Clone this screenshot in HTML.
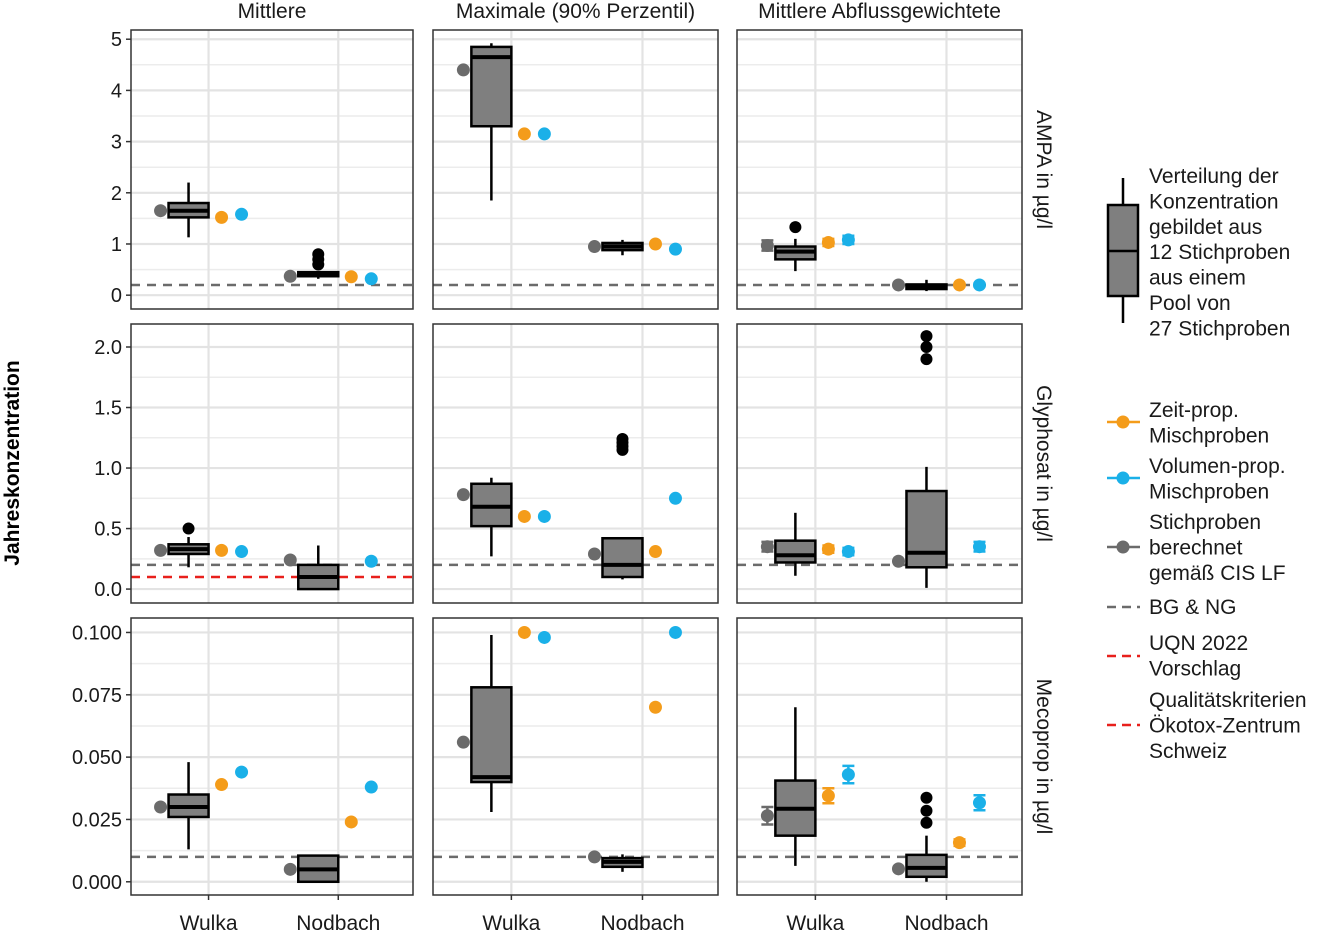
<!DOCTYPE html>
<html><head><meta charset="utf-8">
<style>
html,body{margin:0;padding:0;background:#fff;}
svg{display:block;font-family:"Liberation Sans",Arial,sans-serif;}
</style></head>
<body>
<svg id="chart" width="1323" height="931" viewBox="0 0 1323 931" xmlns="http://www.w3.org/2000/svg"></svg>
<script>
// ---- data ----
const sites = ["Wulka", "Nodbach"];
const statistics = ["Mittlere", "Maximale (90% Perzentil)", "Mittlere Abflussgewichtete"];
const substances = ["AMPA in µg/l", "Glyphosat in µg/l", "Mecoprop in µg/l"];
const rowTicks = [[0,1,2,3,4,5],[0,0.5,1,1.5,2],[0,0.025,0.05,0.075,0.1]];
const rowTickLabels = [["0","1","2","3","4","5"],["0.0","0.5","1.0","1.5","2.0"],["0.000","0.025","0.050","0.075","0.100"]];
const rowDomains = [[-0.27,5.18],[-0.115,2.19],[-0.0053,0.1058]];
// boxes: [lower whisker, q1, median, q3, upper whisker], index = col*2 + site
const ampaBoxes = [[1.13,1.52,1.65,1.8,2.2],[0.32,0.37,0.41,0.45,0.47],[1.85,3.3,4.65,4.85,4.92],[0.78,0.88,0.95,1.02,1.08],[0.47,0.7,0.85,0.95,1.1],[0.08,0.12,0.17,0.21,0.3]];
const glyBoxes = [[0.18,0.29,0.33,0.37,0.43],[0,0,0.1,0.2,0.36],[0.27,0.52,0.68,0.87,0.92],[0.08,0.1,0.2,0.42,0.42],[0.11,0.22,0.28,0.4,0.63],[0.01,0.18,0.3,0.81,1.01]];
const mecoBoxes = [[0.013,0.026,0.03,0.035,0.048],[0,0,0.005,0.0105,0.0105],[0.028,0.04,0.042,0.078,0.099],[0.004,0.006,0.008,0.0095,0.011],[0.0064,0.0185,0.0293,0.0406,0.070],[0,0.002,0.0056,0.0108,0.0185]];
const ampaOutliers = [[],[0.6,0.7,0.8],[],[],[1.33],[]];
const glyOutliers = [[0.5],[],[],[1.15,1.18,1.21,1.24],[],[1.9,2.0,2.09]];
const mecoOutliers = [[],[],[],[],[],[0.0237,0.0285,0.0337]];
// points: [value, error] (null = missing)
const ampaGrey = [[1.65,0],[0.37,0],[4.4,0],[0.95,0],[0.97,0.1],[0.2,0]];
const ampaOrange = [[1.52,0],[0.36,0],[3.15,0],[1.0,0],[1.03,0.07],[0.2,0]];
const ampaBlue = [[1.58,0],[0.32,0],[3.15,0],[0.9,0],[1.08,0.08],[0.2,0.03]];
const glyGrey = [[0.32,0],[0.24,0],[0.78,0],[0.29,0],[0.35,0.04],[0.23,0]];
const glyOrange = [[0.32,0],null,[0.6,0],[0.31,0],[0.33,0.03],null];
const glyBlue = [[0.31,0],[0.23,0],[0.6,0],[0.75,0],[0.31,0.03],[0.35,0.04]];
const mecoGrey = [[0.030,0],[0.005,0],[0.056,0],[0.010,0],[0.0265,0.0035],[0.0052,0]];
const mecoOrange = [[0.039,0],[0.024,0],[0.1,0],[0.070,0],[0.0345,0.003],[0.0157,0.0013]];
const mecoBlue = [[0.044,0],[0.038,0],[0.098,0],[0.100,0],[0.043,0.0035],[0.0317,0.003]];
const greyRefLines = [0.2, 0.2, 0.01];
const redRefLines = [null, 0.1, null];

const allBoxes=[ampaBoxes,glyBoxes,mecoBoxes];
const allOut=[ampaOutliers,glyOutliers,mecoOutliers];
const allGrey=[ampaGrey,glyGrey,mecoGrey];
const allOrange=[ampaOrange,glyOrange,mecoOrange];
const allBlue=[ampaBlue,glyBlue,mecoBlue];

// ---- layout ----
const colX=[[131,413],[433,718],[737,1022]];
const rowY=[[30,309],[324,603],[618,895]];
const GREY="#6b6b6b", ORANGE="#f49c1a", BLUE="#1ab0e8";
const svg=document.getElementById('chart');
const NS="http://www.w3.org/2000/svg";
function mk(tag,attrs,parent){const e=document.createElementNS(NS,tag);for(const k in attrs)e.setAttribute(k,attrs[k]);(parent||svg).appendChild(e);return e;}
function xScale(c,site){const [a,b]=colX[c];return a+(b-a)*(site===0?0.275:0.735);}
function yScale(r,v){const [d0,d1]=rowDomains[r];const [top,bot]=rowY[r];return bot-(v-d0)/(d1-d0)*(bot-top);}

function point(g,x,y,col,err,r,name){
  if(err>0){
    const e1=yScale(r,y-err), e2=yScale(r,y+err);
    const eb=mk('path',{d:`M${x-6},${e1}H${x+6}M${x-6},${e2}H${x+6}M${x},${e1}V${e2}`,stroke:col,'stroke-width':2.5,fill:'none'},g);
    
    
  }
  const c=mk('circle',{cx:x,cy:yScale(r,y),r:6.5,fill:col},g);
  
  
}

for(let r=0;r<3;r++){
  for(let c=0;c<3;c++){
    const g=mk('g',{});
    
    
    const [x0,x1]=colX[c],[y0,y1]=rowY[r];
    const ticks=rowTicks[r];
    for(let i=0;i<ticks.length;i++){
      const step=ticks[1]-ticks[0];
      const mv=ticks[i]+step/2;
      for(const v of [mv, ticks[0]-step/2]){
        const y=yScale(r,v); if(y>y0&&y<y1){const l=mk('line',{x1:x0,x2:x1,y1:y,y2:y,stroke:'#ececec','stroke-width':1.5},g);}
      }
      const y=yScale(r,ticks[i]);
      const l=mk('line',{x1:x0,x2:x1,y1:y,y2:y,stroke:'#e3e3e3','stroke-width':2.2},g);
      
      
    }
    for(let s=0;s<2;s++){const x=xScale(c,s);const l=mk('line',{x1:x,x2:x,y1:y0,y2:y1,stroke:'#e3e3e3','stroke-width':2.2},g);}
    const gy=yScale(r,greyRefLines[r]);
    const gl=mk('line',{x1:x0,x2:x1,y1:gy,y2:gy,stroke:'#6b6b6b','stroke-width':2.5,'stroke-dasharray':'9 7'},g);
    
    
    if(redRefLines[r]!==null&&c===0){
      const ry=yScale(r,redRefLines[r]);
      const rl=mk('line',{x1:x0,x2:x1,y1:ry,y2:ry,stroke:'#e8201c','stroke-width':2.5,'stroke-dasharray':'9 7'},g);
      
      
    }
    for(let s=0;s<2;s++){
      const idx=c*2+s, xt=xScale(c,s);
      const b=allBoxes[r][idx], bx=xt-20;
      const w=mk('line',{x1:bx,x2:bx,y1:yScale(r,b[0]),y2:yScale(r,b[4]),stroke:'#000','stroke-width':2.5},g);
      
      
      const rt=mk('rect',{x:bx-20,y:yScale(r,b[3]),width:40,height:Math.max(1,yScale(r,b[1])-yScale(r,b[3])),fill:'#7f7f7f',stroke:'#000','stroke-width':2.5},g);
      
      
      const md=mk('line',{x1:bx-20,x2:bx+20,y1:yScale(r,b[2]),y2:yScale(r,b[2]),stroke:'#000','stroke-width':4},g);
      
      
      for(const o of allOut[r][idx]){
        const oc=mk('circle',{cx:bx,cy:yScale(r,o),r:6,fill:'#000'},g);
        
        
      }
      const gp=allGrey[r][idx]; if(gp) point(g,xt-48,gp[0],GREY,gp[1],r,'grey-point');
      const op=allOrange[r][idx]; if(op) point(g,xt+13,op[0],ORANGE,op[1],r,'orange-point');
      const bp=allBlue[r][idx]; if(bp) point(g,xt+33,bp[0],BLUE,bp[1],r,'blue-point');
    }
    const fr=mk('rect',{x:x0,y:y0,width:x1-x0,height:y1-y0,fill:'none',stroke:'#333','stroke-width':1.5},g);
    
    
    if(c===0){
      for(let i=0;i<ticks.length;i++){
        const y=yScale(r,ticks[i]);
        const tk=mk('line',{x1:x0-5,x2:x0,y1:y,y2:y,stroke:'#333','stroke-width':1.5});
        
        
        const t=mk('text',{x:x0-9,y:y+7,'text-anchor':'end','font-size':20,fill:'#1a1a1a'});
        t.textContent=rowTickLabels[r][i];
        
        
      }
    }
    if(r===2){
      for(let s=0;s<2;s++){
        const x=xScale(c,s);
        const tk=mk('line',{x1:x,x2:x,y1:y1,y2:y1+5,stroke:'#333','stroke-width':1.5});
        
        
        const t=mk('text',{x:x,y:930,'text-anchor':'middle','font-size':21,fill:'#1a1a1a'});
        t.textContent=sites[s];
        
        
      }
    }
  }
  const [y0,y1]=rowY[r];
  const st=mk('text',{x:0,y:0,'text-anchor':'middle','font-size':21,fill:'#1a1a1a',transform:`translate(1037,${(y0+y1)/2}) rotate(90)`});
  st.textContent=substances[r];
  
  
}
for(let c=0;c<3;c++){
  const t=mk('text',{x:(colX[c][0]+colX[c][1])/2,y:18,'text-anchor':'middle','font-size':21,fill:'#1a1a1a'});
  t.textContent=statistics[c];
  
  
}
const yt=mk('text',{x:0,y:0,'text-anchor':'middle','font-size':21,'font-weight':'bold',fill:'#000',transform:'translate(19,463) rotate(-90)'});
yt.textContent="Jahreskonzentration";



// ---- legend ----
const lg=mk('g',{});


mk('line',{x1:1123,x2:1123,y1:178,y2:323,stroke:'#000','stroke-width':2.5},lg);
mk('rect',{x:1108,y:205,width:30,height:91,fill:'#7f7f7f',stroke:'#000','stroke-width':2.5},lg);
mk('line',{x1:1108,x2:1138,y1:251,y2:251,stroke:'#000','stroke-width':2.5},lg);
function ltext(lines,y0){lines.forEach((s,i)=>{const t=mk('text',{x:1149,y:y0+i*25.4,'font-size':21,fill:'#1a1a1a'},lg);t.textContent=s;});}
ltext(["Verteilung der","Konzentration","gebildet aus","12 Stichproben","aus einem","Pool von","27 Stichproben"],183);
function lkey(y,col,dot,dash,name){
  const l=mk('line',{x1:1107,x2:1140,y1:y,y2:y,stroke:col,'stroke-width':2.5,'stroke-dasharray':dash?'9 6':'none'},lg);
  
  
  if(dot) mk('circle',{cx:1123,cy:y,r:6.5,fill:col},lg);
}
lkey(422,ORANGE,true,false,'legend-zeit-prop');ltext(["Zeit-prop.","Mischproben"],417);
lkey(478,BLUE,true,false,'legend-volumen-prop');ltext(["Volumen-prop.","Mischproben"],473);
lkey(547,GREY,true,false,'legend-stichproben');ltext(["Stichproben","berechnet","gemäß CIS LF"],529);
lkey(607,'#6b6b6b',false,true,'legend-bg-ng');ltext(["BG & NG"],614);
lkey(656,'#e8201c',false,true,'legend-uqn');ltext(["UQN 2022","Vorschlag"],650);
lkey(725,'#e8201c',false,true,'legend-oekotox');ltext(["Qualitätskriterien","Ökotox-Zentrum","Schweiz"],707);
</script>
</body></html>
